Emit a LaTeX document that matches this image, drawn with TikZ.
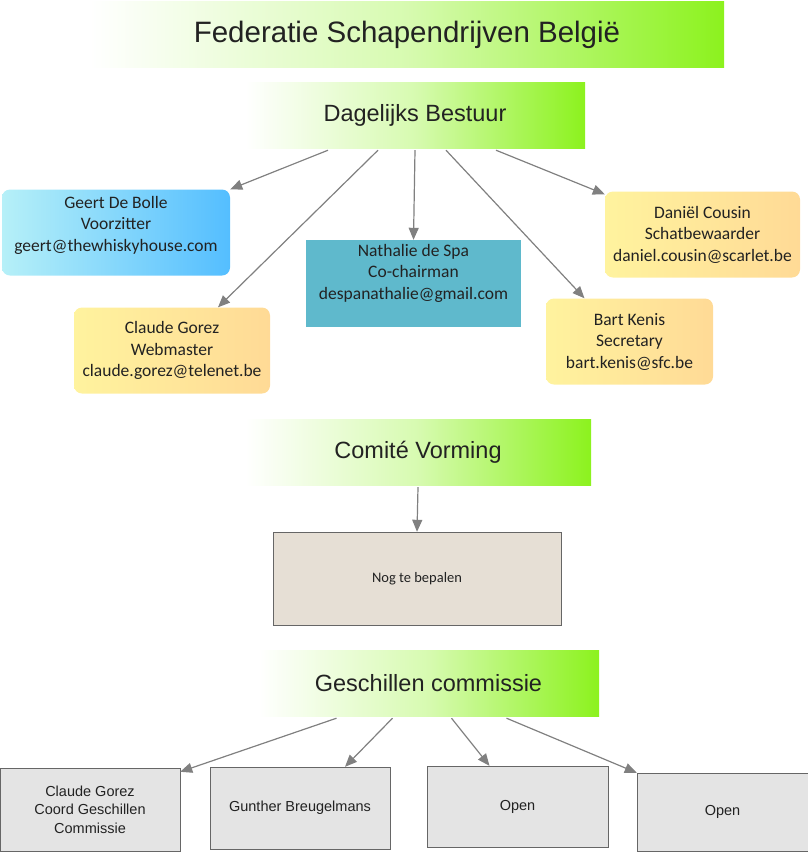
\documentclass[tikz,border=0pt]{standalone}
\usepackage{fontspec}
\setmainfont{Carlito}
\newfontfamily\arialfont{Liberation Sans}
\usetikzlibrary{arrows.meta,calc}

\definecolor{lime}{RGB}{140,242,30}
\definecolor{skyleft}{RGB}{182,240,248}
\definecolor{skyright}{RGB}{84,190,255}
\definecolor{sunleft}{RGB}{255,243,158}
\definecolor{sunright}{RGB}{255,218,150}
\definecolor{teal}{RGB}{95,185,204}
\definecolor{sand}{RGB}{230,223,213}
\definecolor{ash}{RGB}{228,228,228}
\definecolor{ink}{RGB}{34,34,34}
\definecolor{arrowgrey}{RGB}{128,128,128}

\tikzset{
  banner/.style={left color=white, right color=lime, middle color=lime!35,
    minimum height=66pt, inner sep=0pt, text=ink, font=\arialfont},
  person/.style={rounded corners=8pt, minimum height=86pt, align=center,
    inner sep=0pt, text=ink, font=\fontsize{17.5}{21.5}\selectfont},
  sunbox/.style={person, left color=sunleft, right color=sunright},
  greybox/.style={draw=black!60, fill=ash, align=center, inner sep=0pt,
    text=ink, font=\arialfont\fontsize{14.5}{18.5}\selectfont},
  link/.style={draw=arrowgrey, line width=1.2pt, -{Triangle[length=12pt,width=10pt]}}
}

\begin{document}
\begin{tikzpicture}[x=1pt,y=-1pt]
\useasboundingbox (0,0) rectangle (808,852);

% banners
\node[banner, minimum width=634pt, font=\arialfont\fontsize{29.5}{34}\selectfont] (federatie) at (407,34.5) {Federatie Schapendrijven België};
\node[banner, minimum width=340pt, font=\arialfont\fontsize{23.5}{27}\selectfont] (bestuur) at (415,115) {Dagelijks Bestuur};
\node[banner, minimum width=346pt, font=\arialfont\fontsize{23.5}{27}\selectfont] (comite) at (418,452) {Comité Vorming};
\node[banner, minimum width=341pt, font=\arialfont\fontsize{23.5}{27}\selectfont] (geschil) at (428.5,683) {Geschillen commissie};

% dagelijks bestuur
\node[person, left color=skyleft, right color=skyright, minimum width=228pt, text depth=18pt] (geert) at (116,232.5) {Geert De Bolle\\Voorzitter\\geert@thewhiskyhouse.com};
\node[person, fill=teal, rounded corners=0pt, minimum width=215pt, minimum height=87pt, text depth=24pt] (nathalie) at (413.5,283.5) {Nathalie de Spa\\Co-chairman\\despanathalie@gmail.com};
\node[sunbox, minimum width=196pt] (claude) at (172,350.5) {Claude Gorez\\Webmaster\\claude.gorez@telenet.be};
\node[sunbox, minimum width=195pt] (daniel) at (702.5,234.5) {Daniël Cousin\\Schatbewaarder\\daniel.cousin@scarlet.be};
\node[sunbox, minimum width=167pt] (bart) at (629.5,341.5) {Bart Kenis\\Secretary\\bart.kenis@sfc.be};

\draw[link] ([xshift=-87pt,yshift=-2pt]bestuur.south) -- (geert.north east);
\draw[link] ([xshift=-37pt,yshift=-2pt]bestuur.south) -- ([xshift=46pt]claude.north);
\draw[link] ([yshift=-2pt]bestuur.south) -- (nathalie.north);
\draw[link] ([xshift=31pt,yshift=-2pt]bestuur.south) -- ([xshift=-45pt]bart.north);
\draw[link] ([xshift=81pt,yshift=-2pt]bestuur.south) -- ([yshift=-3pt]daniel.north west);

% comite vorming
\node[greybox, fill=sand, minimum width=288pt, minimum height=93pt, font=\fontsize{14.5}{17}\selectfont] (nog) at (417,578.5) {Nog te bepalen};
\draw[link] ([yshift=-2pt]comite.south) -- (nog.north);

% geschillen commissie
\node[greybox, minimum width=180pt, minimum height=83pt] (gorez) at (90,809.5) {Claude Gorez\\Coord Geschillen\\Commissie};
\node[greybox, minimum width=180pt, minimum height=82pt] (gunther) at (300,808) {Gunther Breugelmans};
\node[greybox, minimum width=181pt, minimum height=81pt] (open1) at (517.5,806.5) {Open};
\node[greybox, minimum width=171pt, minimum height=78pt] (open2) at (722.5,812) {Open};

\draw[link] ([xshift=-92pt,yshift=-2pt]geschil.south) -- ([yshift=-4pt]gorez.north east);
\draw[link] ([xshift=-36pt,yshift=-2pt]geschil.south) -- ([xshift=45pt]gunther.north);
\draw[link] ([xshift=23pt,yshift=-2pt]geschil.south) -- ([xshift=-28pt]open1.north);
\draw[link] ([xshift=78pt,yshift=-2pt]geschil.south) -- (open2.north west);
\end{tikzpicture}
\end{document}
